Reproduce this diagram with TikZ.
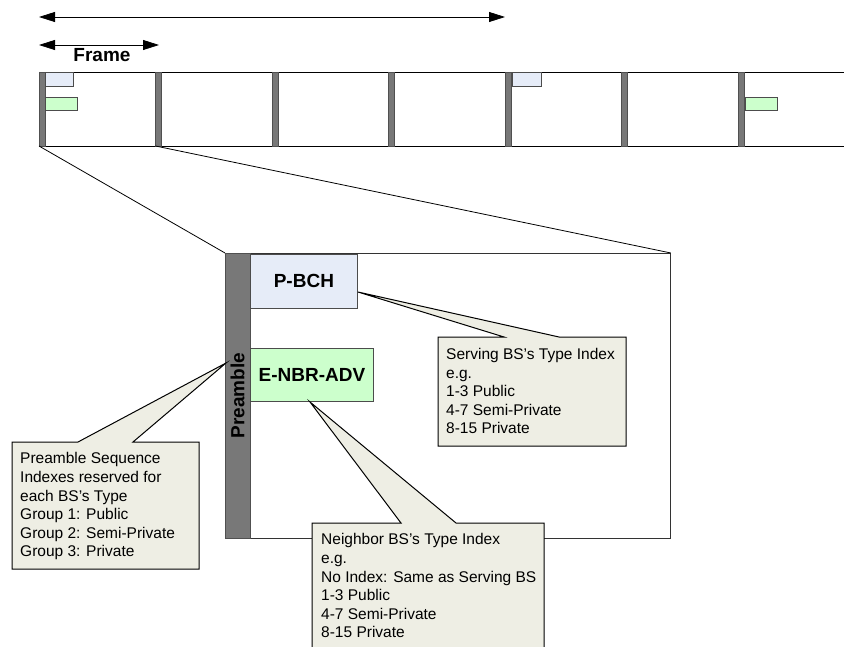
\documentclass[tikz,border=0pt]{standalone}
\usepackage{fontspec}
\setmainfont{Liberation Sans}
\usetikzlibrary{arrows.meta}
\definecolor{bargray}{HTML}{787878}
\definecolor{bardark}{HTML}{505050}
\definecolor{pbchfill}{HTML}{E6ECF8}
\definecolor{nbrfill}{HTML}{CCFFCC}
\definecolor{notefill}{HTML}{EEEEE4}
\begin{document}
\begin{tikzpicture}[x=1pt,y=-1pt,
  lbl/.style={font=\fontsize{19}{22}\selectfont\bfseries, inner sep=0},
  notetext/.style={font=\fontsize{15.5}{18.6}\selectfont, align=left, anchor=north west, inner sep=0},
  callout/.style={draw=black, fill=notefill, line width=1pt, line join=miter},
  bar/.style={draw=bardark, fill=bargray, line width=0.8pt},
  fline/.style={draw=black, line width=0.9pt},
  smallbox/.style={draw=black!70, line width=0.8pt},
  bigbox/.style={draw=black!80, line width=0.9pt, anchor=north west, inner sep=0},
  dimarrow/.style={{Triangle[length=16pt,width=10pt]}-{Triangle[length=16pt,width=10pt]}, line width=0.8pt}]
\useasboundingbox (0,0) rectangle (844,647);
\clip (0,0) rectangle (844,647);
\fill[white] (0,0) rectangle (844,647);

% dimension arrows
\coordinate (a1) at (39,17);
\coordinate (a2) at (505,17);
\draw[dimarrow] (a1) -- (a2);
\coordinate (f1) at (39,45);
\coordinate (f2) at (159,45);
\draw[dimarrow] (f1) -- (f2);
\node[lbl] (framelbl) at (102,55.5) {Frame};

% frame strip
\draw[fline] (39,72) -- (844,72);
\draw[fline] (39,146) -- (844,146);
\foreach \i in {0,...,6} {
  \pgfmathsetmacro\xs{39+116.5*\i}
  \coordinate (fb\i) at (\xs,146);
  \draw[fline] (\xs,72) -- (\xs,146);
  \draw[bar] (\xs,72) rectangle ++(6,74);
}
\draw[smallbox, fill=pbchfill] (45,72) rectangle (73,86.5);
\draw[smallbox, fill=nbrfill] (45,97) rectangle (77,110.5);
\draw[smallbox, fill=pbchfill] (512,72) rectangle (541,86.5);
\draw[smallbox, fill=nbrfill] (745,97) rectangle (777,110.5);

% zoomed frame
\node[bigbox, minimum width=445pt, minimum height=285pt] (big) at (225,253) {};
\draw[line width=0.8pt] (fb0) -- (big.north west);
\draw[line width=0.8pt] (fb1) -- (big.north east);
\node[bar, anchor=north west, inner sep=0, minimum width=25pt, minimum height=285pt] (pre) at (225,253) {};
\node[lbl, rotate=90] (prelbl) at (237.5,395.5) {Preamble};
\node[smallbox, fill=pbchfill, anchor=north west, inner sep=0, minimum width=107pt, minimum height=54pt, lbl] (pbch) at (250,254) {P-BCH};
\node[smallbox, fill=nbrfill, anchor=north west, inner sep=0, minimum width=123pt, minimum height=53pt, lbl] (nbr) at (250,348) {E-NBR-ADV};

% callouts
\coordinate (tipS) at (358,292);
\coordinate (tipN) at (310,402);
\coordinate (tipP) at (226,363);
\path[callout] (438,337) -- (504,337) -- (tipS) -- (559,337) -- (626,337) -- (626,446) -- (438,446) -- cycle;
\node[notetext] (serv) at (446,348) {Serving BS’s Type Index\\e.g.\\1-3 Public\\4-7 Semi-Private\\8-15 Private};
\path[callout] (312,523) -- (401,523) -- (tipN) -- (456,523) -- (544,523) -- (544,665) -- (312,665) -- cycle;
\node[notetext] (neigh) at (321,533.5) {Neighbor BS’s Type Index\\e.g.\\No Index: Same as Serving BS\\1-3 Public\\4-7 Semi-Private\\8-15 Private};
\path[callout] (12,442) -- (78,442) -- (tipP) -- (133,442) -- (199,442) -- (199,569) -- (12,569) -- cycle;
\node[notetext] (pnote) at (20,452.5) {Preamble Sequence\\Indexes reserved for\\each BS’s Type\\Group 1: Public\\Group 2: Semi-Private\\Group 3: Private};
\end{tikzpicture}
\end{document}
